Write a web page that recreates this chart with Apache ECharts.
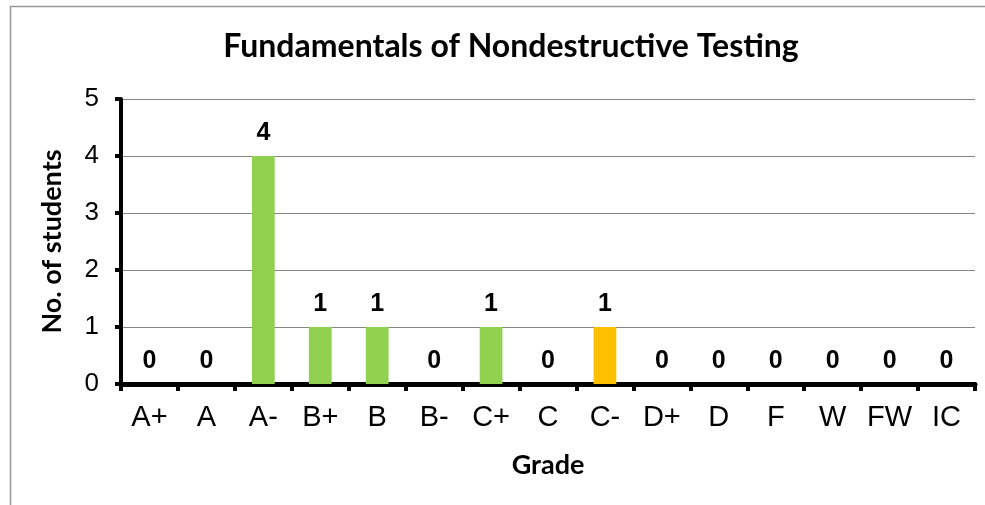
<!DOCTYPE html>
<html>
<head>
<meta charset="utf-8">
<script src="https://cdn.jsdelivr.net/npm/echarts@6/dist/echarts.min.js"></script>
<style>
  html, body { margin: 0; padding: 0; background: #fff; }
  #chart { width: 985px; height: 505px; }
</style>
</head>
<body>
<div id="chart"></div>
<script>
const grades = ['A+', 'A', 'A-', 'B+', 'B', 'B-', 'C+', 'C', 'C-', 'D+', 'D', 'F', 'W', 'FW', 'IC'];
const students = [0, 0, 4, 1, 1, 0, 1, 0, 1, 0, 0, 0, 0, 0, 0];
const barColors = ['#92D050', '#92D050', '#92D050', '#92D050', '#92D050', '#92D050', '#92D050', '#92D050', '#FFC000', '#92D050', '#92D050', '#92D050', '#92D050', '#92D050', '#92D050'];

const chart = echarts.init(document.getElementById('chart'));

const option = {
  animation: false,
  title: {
    text: 'Fundamentals of Nondestructive Testing',
    left: 506,
    top: 26,
    textAlign: 'center',
    textStyle: { fontFamily: 'Lato', fontWeight: 'bold', fontSize: 32, color: '#000' }
  },
  graphic: [{
    type: 'rect',
    shape: { x: 10.5, y: 6.5, width: 1000, height: 600 },
    style: { fill: 'none', stroke: '#999', lineWidth: 1.5 },
    silent: true
  }],
  grid: { left: 121, right: 10, top: 99, bottom: 121 },
  xAxis: {
    type: 'category',
    data: grades,
    name: 'Grade',
    nameLocation: 'middle',
    nameGap: 68,
    nameTextStyle: { fontFamily: 'Lato', fontWeight: 'bold', fontSize: 27, color: '#000' },
    axisLine: { lineStyle: { color: '#000', width: 5 } },
    axisTick: { show: true, length: 7, lineStyle: { color: '#000', width: 4 } },
    axisLabel: { interval: 0, hideOverlap: false, fontFamily: 'Liberation Sans', fontSize: 29, color: '#000', margin: 19 }
  },
  yAxis: {
    type: 'value',
    min: 0,
    max: 5,
    interval: 1,
    name: 'No. of students',
    nameLocation: 'middle',
    nameGap: 55,
    nameTextStyle: { fontFamily: 'Lato', fontWeight: 'bold', fontSize: 27, color: '#000' },
    axisLine: { show: true, lineStyle: { color: '#000', width: 4 } },
    axisTick: { show: true, length: 6, lineStyle: { color: '#000', width: 4 } },
    axisLabel: { fontFamily: 'Liberation Sans', fontSize: 26, color: '#000', margin: 22 },
    splitLine: { lineStyle: { color: '#868686', width: 1 } }
  },
  series: [{
    type: 'bar',
    data: students.map((v, i) => ({ value: v, itemStyle: { color: barColors[i] } })),
    barWidth: '40%',
    label: {
      show: true,
      position: 'top',
      distance: 10,
      fontFamily: 'Liberation Sans',
      fontWeight: 'bold',
      fontSize: 25,
      color: '#000'
    }
  }]
};

chart.setOption(option);
</script>
</body>
</html>
